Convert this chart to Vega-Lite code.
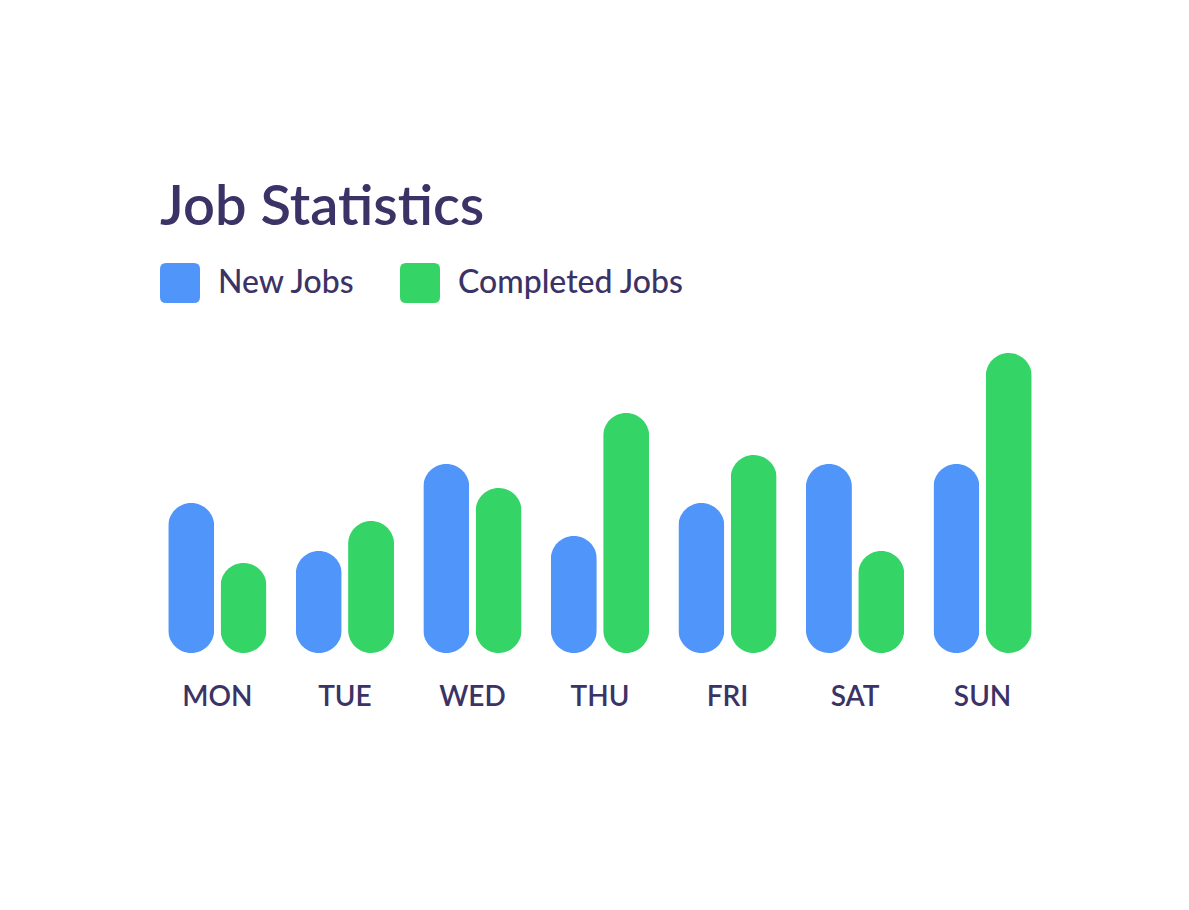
{
  "$schema": "https://vega.github.io/schema/vega-lite/v6.json",
  "width": 880,
  "height": 300,
  "padding": {"left": 160, "top": 180, "right": 120, "bottom": 100},
  "background": "white",
  "title": {
    "text": "Job Statistics",
    "anchor": "start",
    "font": "Lato",
    "fontSize": 56,
    "fontWeight": 600,
    "color": "#3B3366",
    "offset": 26
  },
  "data": {
    "values": [
      {"day": "MON", "series": "New Jobs", "jobs": 50},
      {"day": "MON", "series": "Completed Jobs", "jobs": 30},
      {"day": "TUE", "series": "New Jobs", "jobs": 34},
      {"day": "TUE", "series": "Completed Jobs", "jobs": 44},
      {"day": "WED", "series": "New Jobs", "jobs": 63},
      {"day": "WED", "series": "Completed Jobs", "jobs": 55},
      {"day": "THU", "series": "New Jobs", "jobs": 39},
      {"day": "THU", "series": "Completed Jobs", "jobs": 80},
      {"day": "FRI", "series": "New Jobs", "jobs": 50},
      {"day": "FRI", "series": "Completed Jobs", "jobs": 66},
      {"day": "SAT", "series": "New Jobs", "jobs": 63},
      {"day": "SAT", "series": "Completed Jobs", "jobs": 34},
      {"day": "SUN", "series": "New Jobs", "jobs": 63},
      {"day": "SUN", "series": "Completed Jobs", "jobs": 100}
    ]
  },
  "mark": {"type": "bar", "cornerRadius": 23, "width": 46},
  "encoding": {
    "x": {
      "field": "day",
      "type": "nominal",
      "sort": ["MON", "TUE", "WED", "THU", "FRI", "SAT", "SUN"],
      "scale": {"paddingInner": 0.2, "paddingOuter": 0.05},
      "axis": {
        "title": null,
        "labelAngle": 0,
        "domain": false,
        "ticks": false,
        "labelFont": "Lato",
        "labelFontSize": 28,
        "labelFontWeight": 600,
        "labelColor": "#3B3366",
        "labelPadding": 30
      }
    },
    "xOffset": {
      "field": "series",
      "type": "nominal",
      "sort": ["New Jobs", "Completed Jobs"],
      "scale": {"paddingInner": 0.05}
    },
    "y": {
      "field": "jobs",
      "type": "quantitative",
      "scale": {"domain": [0, 100]},
      "axis": null
    },
    "color": {
      "field": "series",
      "type": "nominal",
      "sort": ["New Jobs", "Completed Jobs"],
      "scale": {"domain": ["New Jobs", "Completed Jobs"], "range": ["#5096FA", "#34D566"]},
      "legend": {
        "title": null,
        "orient": "top",
        "direction": "horizontal",
        "offset": 50,
        "symbolType": "M-0.7,-1 L0.7,-1 Q1,-1 1,-0.7 L1,0.7 Q1,1 0.7,1 L-0.7,1 Q-1,1 -1,0.7 L-1,-0.7 Q-1,-1 -0.7,-1 Z",
        "symbolSize": 1600,
        "symbolStrokeWidth": 0,
        "labelFont": "Lato",
        "labelFontSize": 32,
        "labelFontWeight": 500,
        "labelColor": "#3B3366",
        "labelOffset": 18,
        "labelLimit": 0,
        "columnPadding": 44
      }
    }
  },
  "config": {
    "view": {"stroke": null},
    "legend": {"layout": {"top": {"anchor": "start"}}}
  }
}
